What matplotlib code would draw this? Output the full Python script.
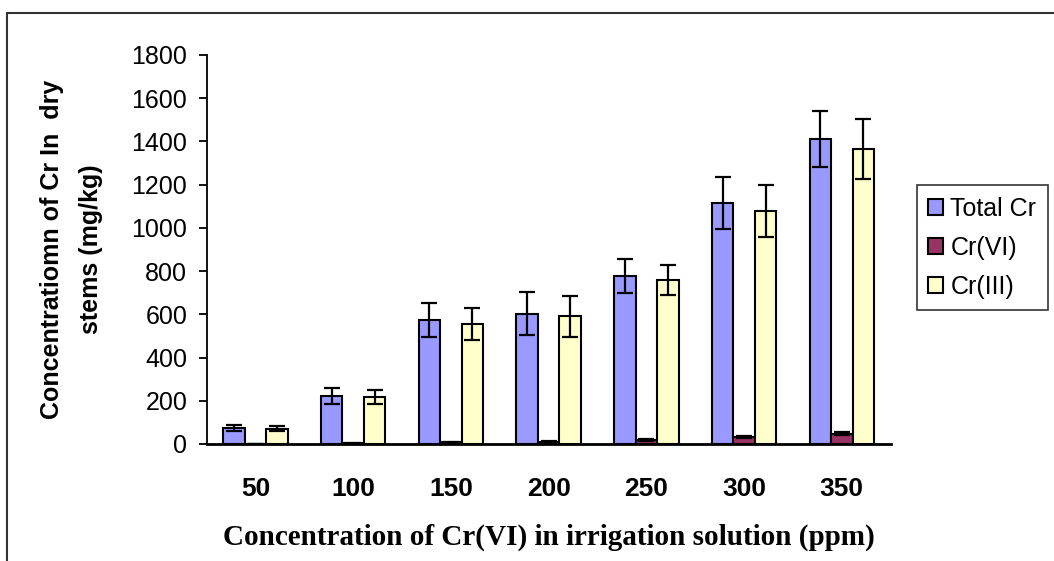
import matplotlib.pyplot as plt
from matplotlib.patches import Rectangle
import numpy as np

concentrations = ['50', '100', '150', '200', '250', '300', '350']
total_cr = [74, 222, 574, 602, 778, 1116, 1412]
total_cr_err = [12, 37, 79, 100, 79, 120, 130]
cr_vi = [1, 3, 8, 10, 20, 32, 48]
cr_vi_err = [1, 1, 3, 3, 5, 6, 8]
cr_iii = [70, 218, 556, 592, 758, 1078, 1365]
cr_iii_err = [12, 32, 74, 95, 70, 120, 140]

fig = plt.figure(figsize=(10.54, 5.61), dpi=100)
ax = fig.add_axes([0.196, 0.2086, 0.649, 0.6934])

x = np.arange(len(concentrations))
w = 0.22
err_kw = dict(ecolor='black', elinewidth=1.6, capsize=6, capthick=1.6)
ax.bar(x - w, total_cr, w, yerr=total_cr_err, color='#9999FF', edgecolor='black',
       linewidth=1.5, error_kw=err_kw, label='Total Cr')
ax.bar(x, cr_vi, w, yerr=cr_vi_err, color='#993366', edgecolor='black',
       linewidth=1.5, error_kw=err_kw, label='Cr(VI)')
ax.bar(x + w, cr_iii, w, yerr=cr_iii_err, color='#FFFFCC', edgecolor='black',
       linewidth=1.5, error_kw=err_kw, label='Cr(III)')

ax.set_xlim(-0.5, len(concentrations) - 0.5)
ax.set_ylim(0, 1800)
ax.set_yticks(range(0, 1801, 200))
ax.set_xticks(x)
ax.set_xticklabels(concentrations, fontweight='bold')
ax.tick_params(axis='x', length=0, pad=24, labelsize=19)
ax.tick_params(axis='y', length=6, width=1.3, direction='out', labelsize=18, pad=8)
for lab in ax.get_yticklabels() + ax.get_xticklabels():
    lab.set_family('Liberation Sans')

ax.spines['top'].set_visible(False)
ax.spines['right'].set_visible(False)
ax.spines['left'].set_linewidth(1.3)
ax.spines['bottom'].set_linewidth(2)

ax.set_xlabel('Concentration of Cr(VI) in irrigation solution (ppm)',
              family='Liberation Serif', fontweight='bold', fontsize=21, labelpad=16)
ax.set_ylabel('Concentratiomn of Cr In  dry\nstems (mg/kg)',
              family='Liberation Sans', fontweight='bold', fontsize=18, labelpad=20,
              linespacing=1.8)

leg = ax.legend(loc='upper left', bbox_to_anchor=(1.038, 0.665),
                prop={'family': 'Liberation Sans', 'size': 18},
                frameon=True, fancybox=False, edgecolor='black', handlelength=0.6,
                handleheight=0.6, handletextpad=0.3, labelspacing=0.6,
                borderpad=0.45, borderaxespad=0)
leg.get_frame().set_linewidth(1.2)

fig.patches.append(Rectangle((0.007, -0.1), 1.1, 1.077, transform=fig.transFigure,
                             fill=False, edgecolor='#333333', linewidth=1.5))

fig.savefig('out.png', dpi=100)
